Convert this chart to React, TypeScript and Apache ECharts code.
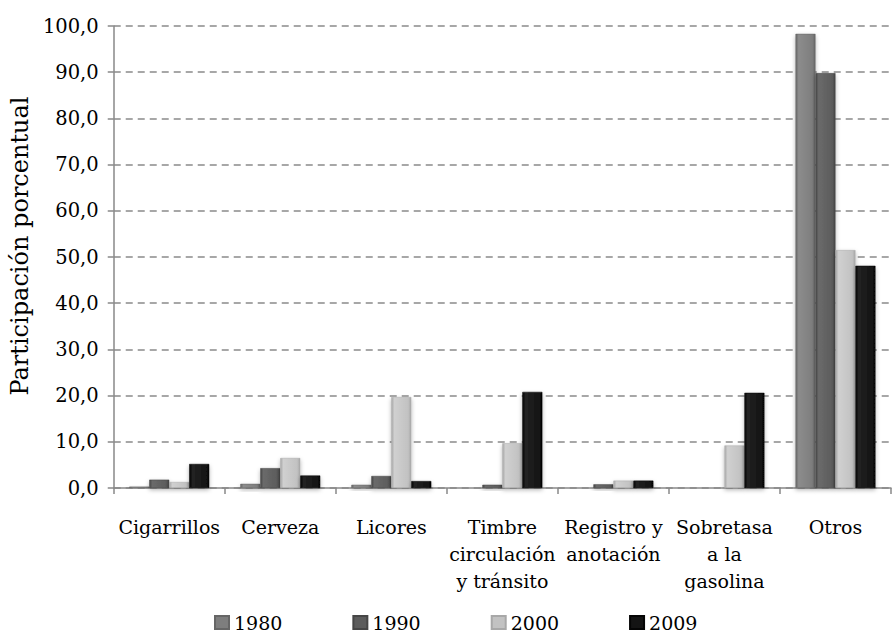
import React, { useEffect, useRef } from "react";
import * as echarts from "echarts";

const categories = [
  "Cigarrillos",
  "Cerveza",
  "Licores",
  "Timbre\ncirculación\ny tránsito",
  "Registro y\nanotación",
  "Sobretasa\na la\ngasolina",
  "Otros",
];
const seriesNames = ["1980", "1990", "2000", "2009"];
const v1980 = [0.3, 0.9, 0.7, 0, 0, 0, 98.3];
const v1990 = [1.8, 4.3, 2.6, 0.7, 0.8, 0, 89.8];
const v2000 = [1.3, 6.5, 19.7, 9.7, 1.6, 9.2, 51.5];
const v2009 = [5.2, 2.7, 1.5, 20.8, 1.6, 20.6, 48.1];
const seriesValues = [v1980, v1990, v2000, v2009];
const baseColors = ["#7e7e7e", "#5c5c5c", "#c2c2c2", "#141414"];
const edgeColors = ["#666666", "#464646", "#a8a8a8", "#050505"];
const midColors = ["#8c8c8c", "#6a6a6a", "#d0d0d0", "#222222"];

const FONT = "DejaVu Serif";

export default function App() {
  const ref = useRef<HTMLDivElement>(null);
  useEffect(() => {
    if (!ref.current) return;
    const chart = echarts.init(ref.current, null, { renderer: "svg" });
    chart.setOption({
      animation: false,
      backgroundColor: "#ffffff",
      textStyle: { fontFamily: FONT },
      grid: { left: 112, right: 1, top: 26, bottom: 146, containLabel: false },
      legend: {
        data: seriesNames.map((n, i) => ({
          name: n,
          itemStyle: { color: baseColors[i] },
        })),
        left: 214,
        top: 613,
        icon: "rect",
        itemWidth: 14,
        itemHeight: 13,
        itemGap: 70,
        padding: 0,
        textStyle: { fontSize: 19, color: "#000", fontFamily: FONT },
      },
      xAxis: {
        type: "category",
        data: categories,
        axisLine: { show: true, lineStyle: { color: "#888888", width: 1.5 } },
        axisTick: { show: true, length: 6, lineStyle: { color: "#888888", width: 1.5 } },
        axisLabel: {
          interval: 0,
          fontSize: 19,
          lineHeight: 27,
          color: "#000",
          fontFamily: FONT,
          margin: 25,
        },
      },
      yAxis: {
        type: "value",
        min: 0,
        max: 100,
        interval: 10,
        name: "Participación porcentual",
        nameLocation: "middle",
        nameGap: 70,
        nameTextStyle: {
          fontSize: 24,
          color: "#000",
          fontFamily: FONT,
          padding: [0, 0, 0, 22],
        },
        axisLine: { show: true, lineStyle: { color: "#888888", width: 1.5 } },
        axisTick: { show: true, length: 6, lineStyle: { color: "#888888", width: 1.5 } },
        axisLabel: {
          fontSize: 19.5,
          color: "#000",
          fontFamily: FONT,
          margin: 15,
          formatter: (v: number) => v.toFixed(1).replace(".", ","),
        },
        splitLine: {
          show: true,
          lineStyle: { color: "#8a8a8a", width: 1.5, type: [7, 5] },
        },
      },
      series: seriesNames.map((n, i) => ({
        name: n,
        type: "bar",
        data: seriesValues[i],
        barGap: "0%",
        barCategoryGap: "28%",
        itemStyle: {
          color: new echarts.graphic.LinearGradient(0, 0, 1, 0, [
            { offset: 0, color: edgeColors[i] },
            { offset: 0.15, color: midColors[i] },
            { offset: 0.85, color: baseColors[i] },
            { offset: 1, color: edgeColors[i] },
          ]),
          borderColor: edgeColors[i],
          borderWidth: 0.5,
          shadowColor: "rgba(0,0,0,0.3)",
          shadowBlur: 4,
          shadowOffsetY: 2,
        },
      })),
    });
    return () => chart.dispose();
  }, []);
  return (
    <div
      ref={ref}
      style={{ position: "absolute", left: 0, top: 0, width: 892, height: 634 }}
    />
  );
}
